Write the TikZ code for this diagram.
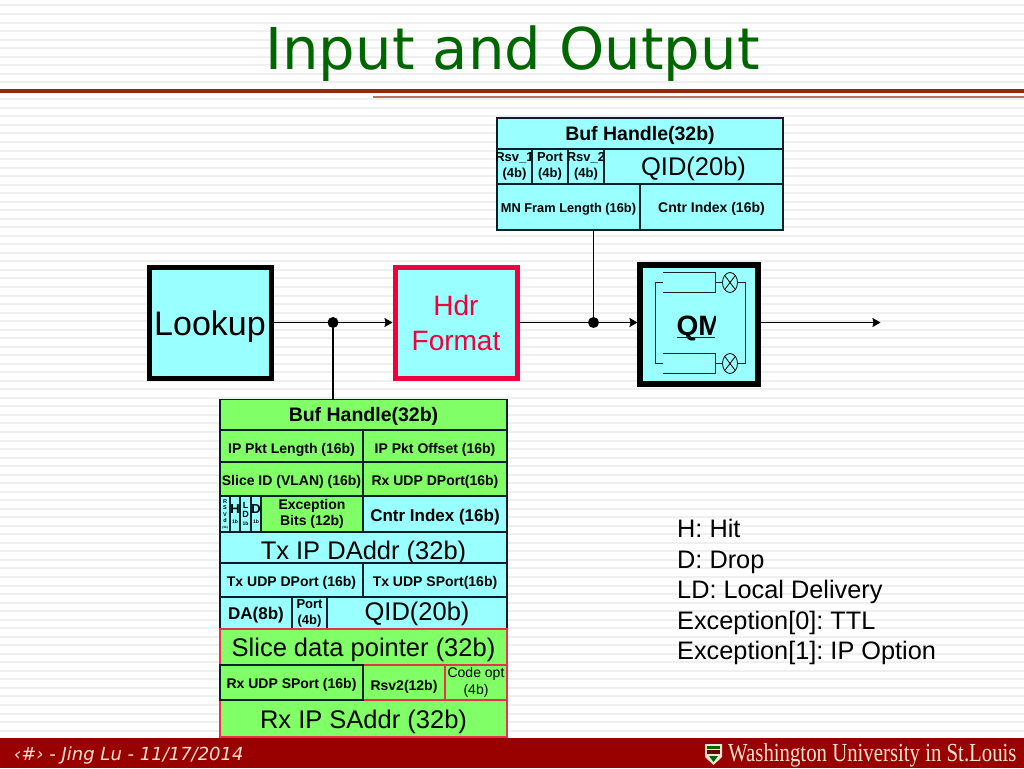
\documentclass[tikz,border=0pt]{standalone}
\usepackage{fontspec}
\usepackage{graphicx}
\usepackage{xcolor}
\setmainfont{Liberation Sans}
\newfontfamily\titlefont{DejaVu Sans}
\newfontfamily\logofont{Liberation Serif}
\usepackage{tikz}
\usetikzlibrary{arrows.meta,positioning,shapes.geometric}
\definecolor{cellcyan}{HTML}{99FFFF}
\definecolor{cellgreen}{HTML}{80FF66}
\definecolor{cellline}{HTML}{06202A}
\definecolor{hdrred}{HTML}{F0003C}
\definecolor{cellred}{HTML}{E8324A}
\definecolor{rulered}{HTML}{8F2A0A}
\definecolor{footred}{HTML}{990000}
\definecolor{stripe}{HTML}{EFEFEF}
\definecolor{titlegreen}{HTML}{006600}
\definecolor{footcream}{HTML}{F6E4D2}
\newcommand{\cw}[1]{\makebox[0pt]{#1}}
\frenchspacing

\begin{document}
\begin{tikzpicture}[
  x=1pt, y=-1pt,
  cell/.style={rectangle, draw=cellline, line width=1.1pt, inner sep=0pt, outer sep=0pt,
               align=center, anchor=north west},
  cyancell/.style={cell, fill=cellcyan},
  greencell/.style={cell, fill=cellgreen},
  redcell/.style={cell, fill=cellgreen, draw=cellred},
  labelb/.style={font=\fontsize{14}{16}\selectfont\bfseries, text height=12pt, text depth=0pt},
  labeltwo/.style={font=\fontsize{14}{16}\selectfont\bfseries},
  labelsm/.style={font=\fontsize{13}{16}\selectfont\bfseries},
  labelc/.style={font=\fontsize{19.5}{21}\selectfont\bfseries, text height=14pt, text depth=0pt},
  labeld/.style={font=\fontsize{17}{19}\selectfont\bfseries, text height=14pt, text depth=0pt},
  labelbig/.style={font=\fontsize{25.5}{28}\selectfont, text height=18pt, text depth=0pt},
  block/.style={rectangle, fill=cellcyan, line width=5pt, inner sep=0pt, outer sep=2.5pt,
                minimum width=122pt, minimum height=111pt, align=center},
  dot/.style={circle, fill=black, inner sep=0pt, minimum size=11pt},
  mux/.style={ellipse, draw=black, line width=.8pt, inner sep=0pt, outer sep=0pt,
              minimum width=15pt, minimum height=20pt, path picture={
                \draw[line width=.8pt] (path picture bounding box.north west) -- (path picture bounding box.south east);
                \draw[line width=.8pt] (path picture bounding box.north east) -- (path picture bounding box.south west);}},
  arr/.style={-{Stealth[length=8pt,width=9pt,inset=1pt]}, line width=1.3pt},
  conn/.style={line width=1.3pt},
  qline/.style={line width=1pt, draw=black!85!cellcyan},
  legend/.style={anchor=base west, inner sep=0pt, font=\fontsize{25.3}{27}\selectfont}]
  \useasboundingbox (0,0) rectangle (1024,768);
  \fill[white] (0,0) rectangle (1024,768);
  \foreach \ypos in {0,...,89}
    \fill[stripe] (0,{4.5+8.53*\ypos}) rectangle (1024,{6.5+8.53*\ypos});
  \fill[rulered] (0,88.7) rectangle (1024,93);
  \fill[rulered!65] (373,96) rectangle (1024,98);
  \node[text=titlegreen, anchor=base, inner sep=0pt, font=\titlefont\fontsize{57.6}{62}\selectfont] (title) at (512.5,70) {Input and Output};

  \node[cyancell, labelc, minimum width=286pt, minimum height=31pt] (tophandle) at (497,118) {Buf Handle(32b)};
  \node[cyancell, labelsm, minimum width=35pt, minimum height=35pt] (toprsva) at (497,149) {\cw{Rsv\_1}\\\cw{(4b)}};
  \node[cyancell, labelsm, minimum width=36pt, minimum height=35pt, right=0pt of toprsva, anchor=west] (topport) {\cw{Port}\\\cw{(4b)}};
  \node[cyancell, labelsm, minimum width=36pt, minimum height=35pt, right=0pt of topport, anchor=west] (toprsvb) {\cw{Rsv\_2}\\\cw{(4b)}};
  \node[cyancell, labelbig, text height=17pt, minimum width=179pt, minimum height=35pt, right=0pt of toprsvb, anchor=west] (topqid) {QID(20b)};
  \node[cyancell, labelb, font=\fontsize{12.8}{15}\selectfont\bfseries, text height=10pt, minimum width=143pt, minimum height=46pt] (toplen) at (497,184) {MN Fram Length (16b)};
  \node[cyancell, labelb, text height=10pt, minimum width=143pt, minimum height=46pt, right=0pt of toplen, anchor=west] (topcntr) {Cntr Index (16b)};

  \node[block, draw=black, font=\fontsize{34}{38}\selectfont, text height=25pt, text depth=0pt] (lookup) at (210,322.5) {Lookup};
  \node[block, draw=hdrred, text=hdrred, font=\fontsize{28}{35}\selectfont, right=119pt of lookup] (hdr) {Hdr\\Format};
  \node[block, draw=black, line width=6pt, minimum width=118pt, minimum height=119pt] (qm) at (699,324.5) {};
  \coordinate[right=120pt of qm.east |- hdr.east] (qmout);
  \coordinate (qmin) at (qm.west |- hdr.east);
  \coordinate (qmstart) at (qm.east |- hdr.east);
  \node[dot] (dota) at (333,322.5) {};
  \node[dot] (dotb) at (593.5,322.5) {};

  \begin{scope}
    \clip (670,300) rectangle (715.5,345);
    \node[inner sep=0pt, font=\fontsize{28}{30}\selectfont\bfseries, anchor=base west] (qmlabel) at (676.5,335) {QM};
  \end{scope}
  \draw[qline] (676.5,337) -- (715,337);
  \node[mux] (muxa) at (730,282.5) {};
  \node[mux] (muxb) at (730,363.5) {};
  \draw[qline] (663,272) -- (715,272) -- (715,292) -- (663,292);
  \draw[qline] (663,353) -- (715,353) -- (715,373) -- (663,373);
  \draw[qline] (715,282.5) -- (muxa);
  \draw[qline] (715,363.5) -- (muxb);
  \draw[qline] (muxa) -- (745,282.5) -- (745,363.5) -- (muxb);
  \draw[qline] (663,282) -- (655,282) -- (655,363.5) -- (663,363.5);

  \draw[arr] (lookup) -- (hdr);
  \draw[arr] (hdr) -- (qmin);
  \draw[arr] (qmstart) -- (qmout);
  \draw[conn] (dotb) -- (dotb |- toplen.south);

  \node[greencell, labelc, minimum width=287pt, minimum height=30.5pt] (gbhandle) at (220,399.5) {Buf Handle(32b)};
  \draw[conn] (dota) -- (dota |- gbhandle.north);
  \node[greencell, labelb, text height=14pt, minimum width=143pt, minimum height=32pt] (pktlen) at (220,430) {IP Pkt Length (16b)};
  \node[greencell, labelb, text height=14pt, minimum width=144pt, minimum height=32pt, right=0pt of pktlen, anchor=west] (pktoff) {IP Pkt Offset (16b)};
  \node[greencell, labelb, minimum width=143pt, minimum height=34pt] (sliceid) at (220,462) {Slice ID (VLAN) (16b)};
  \node[greencell, labelb, minimum width=144pt, minimum height=34pt, right=0pt of sliceid, anchor=west] (rxdport) {Rx UDP DPort(16b)};
  \node[cyancell, minimum width=10pt, minimum height=36pt, font=\fontsize{5.5}{6.5}\selectfont\bfseries] (rsvd) at (220,496) {R\\S\\V\\d\\[-1pt]{\fontsize{3}{4}\selectfont(3b)}};
  \node[cyancell, minimum width=10pt, minimum height=36pt, right=0pt of rsvd, anchor=west] (flagh) {\fontsize{13}{13}\selectfont\bfseries\cw{H}\\[-2pt]\fontsize{5}{6}\selectfont\bfseries 1b};
  \node[cyancell, minimum width=11pt, minimum height=36pt, right=0pt of flagh, anchor=west, font=\fontsize{9}{9}\selectfont\bfseries] (flagld) {L\\D\\[-1pt]{\fontsize{5}{6}\selectfont 1b}};
  \node[cyancell, minimum width=10pt, minimum height=36pt, right=0pt of flagld, anchor=west] (flagd) {\fontsize{13}{13}\selectfont\bfseries\cw{D}\\[-2pt]\fontsize{5}{6}\selectfont\bfseries 1b};
  \node[greencell, labeltwo, minimum width=102pt, minimum height=36pt, right=0pt of flagd, anchor=west] (except) {Exception\\Bits (12b)};
  \node[cyancell, labeld, minimum width=144pt, minimum height=36pt, right=0pt of except, anchor=west] (gbcntr) {Cntr Index (16b)};
  \node[cyancell, labelbig, text height=23pt, minimum width=287pt, minimum height=31pt] (txdaddr) at (220,532) {Tx IP DAddr (32b)};
  \node[cyancell, labelb, minimum width=143pt, minimum height=34pt] (txdport) at (220,563) {Tx UDP DPort (16b)};
  \node[cyancell, labelb, minimum width=144pt, minimum height=34pt, right=0pt of txdport, anchor=west] (txsport) {Tx UDP SPort(16b)};
  \node[cyancell, labeld, text height=12pt, minimum width=72pt, minimum height=32pt] (gbda) at (220,597) {DA(8b)};
  \node[cyancell, labelsm, minimum width=35pt, minimum height=32pt, right=0pt of gbda, anchor=west] (gbport) {Port\\(4b)};
  \node[cyancell, labelbig, text height=14pt, minimum width=180pt, minimum height=32pt, right=0pt of gbport, anchor=west] (gbqid) {QID(20b)};
  \node[redcell, labelbig, minimum width=287pt, minimum height=36pt] (slicedata) at (220,629) {Slice data pointer (32b)};
  \node[redcell, labelb, text height=15pt, minimum width=82pt, minimum height=35pt] (gbrsv) at (363,665) {Rsv2(12b)};
  \node[redcell, minimum width=62pt, minimum height=35pt, right=0pt of gbrsv, anchor=west, font=\fontsize{14}{16.5}\selectfont] (codeopt) {\cw{Code opt}\\(4b)};
  \node[redcell, labelbig, text height=19pt, minimum width=287pt, minimum height=37pt] (rxsaddr) at (220,700) {Rx IP SAddr (32b)};
  \node[greencell, labelb, text height=11pt, minimum width=143pt, minimum height=35pt] (rxsport) at (220,665) {Rx UDP SPort (16b)};

  \node[legend] (lgh) at (677,537.5) {H: Hit};
  \node[legend] (lgd) at (677,568) {D: Drop};
  \node[legend] (lgld) at (677,598.5) {LD: Local Delivery};
  \node[legend] (lgttl) at (677,629) {Exception[0]: TTL};
  \node[legend] (lgopt) at (677,659.5) {Exception[1]: IP Option};

  \fill[footred] (0,738) rectangle (1024,768);
  \node[anchor=west, inner sep=0pt, text=footcream, font=\titlefont\itshape\fontsize{18}{20}\selectfont] (footer) at (14,755.5) {‹\#› - Jing Lu - 11/17/2014};
  \fill[footcream] (705,744) -- (722,744) -- (722,757) -- (713.5,765) -- (705,757) -- cycle;
  \fill[footred!70!black] (707,750) rectangle (720,754);
  \fill[green!40!black] (707,746) rectangle (720,749);
  \fill[green!40!black] (709,756) -- (718,756) -- (713.5,762) -- cycle;
  \node[anchor=west, inner sep=0pt, text=footcream, font=\logofont\fontsize{26}{28}\selectfont] (logo) at (728,755) {\scalebox{0.8}[1]{Washington University in St.Louis}};
\end{tikzpicture}
\end{document}
